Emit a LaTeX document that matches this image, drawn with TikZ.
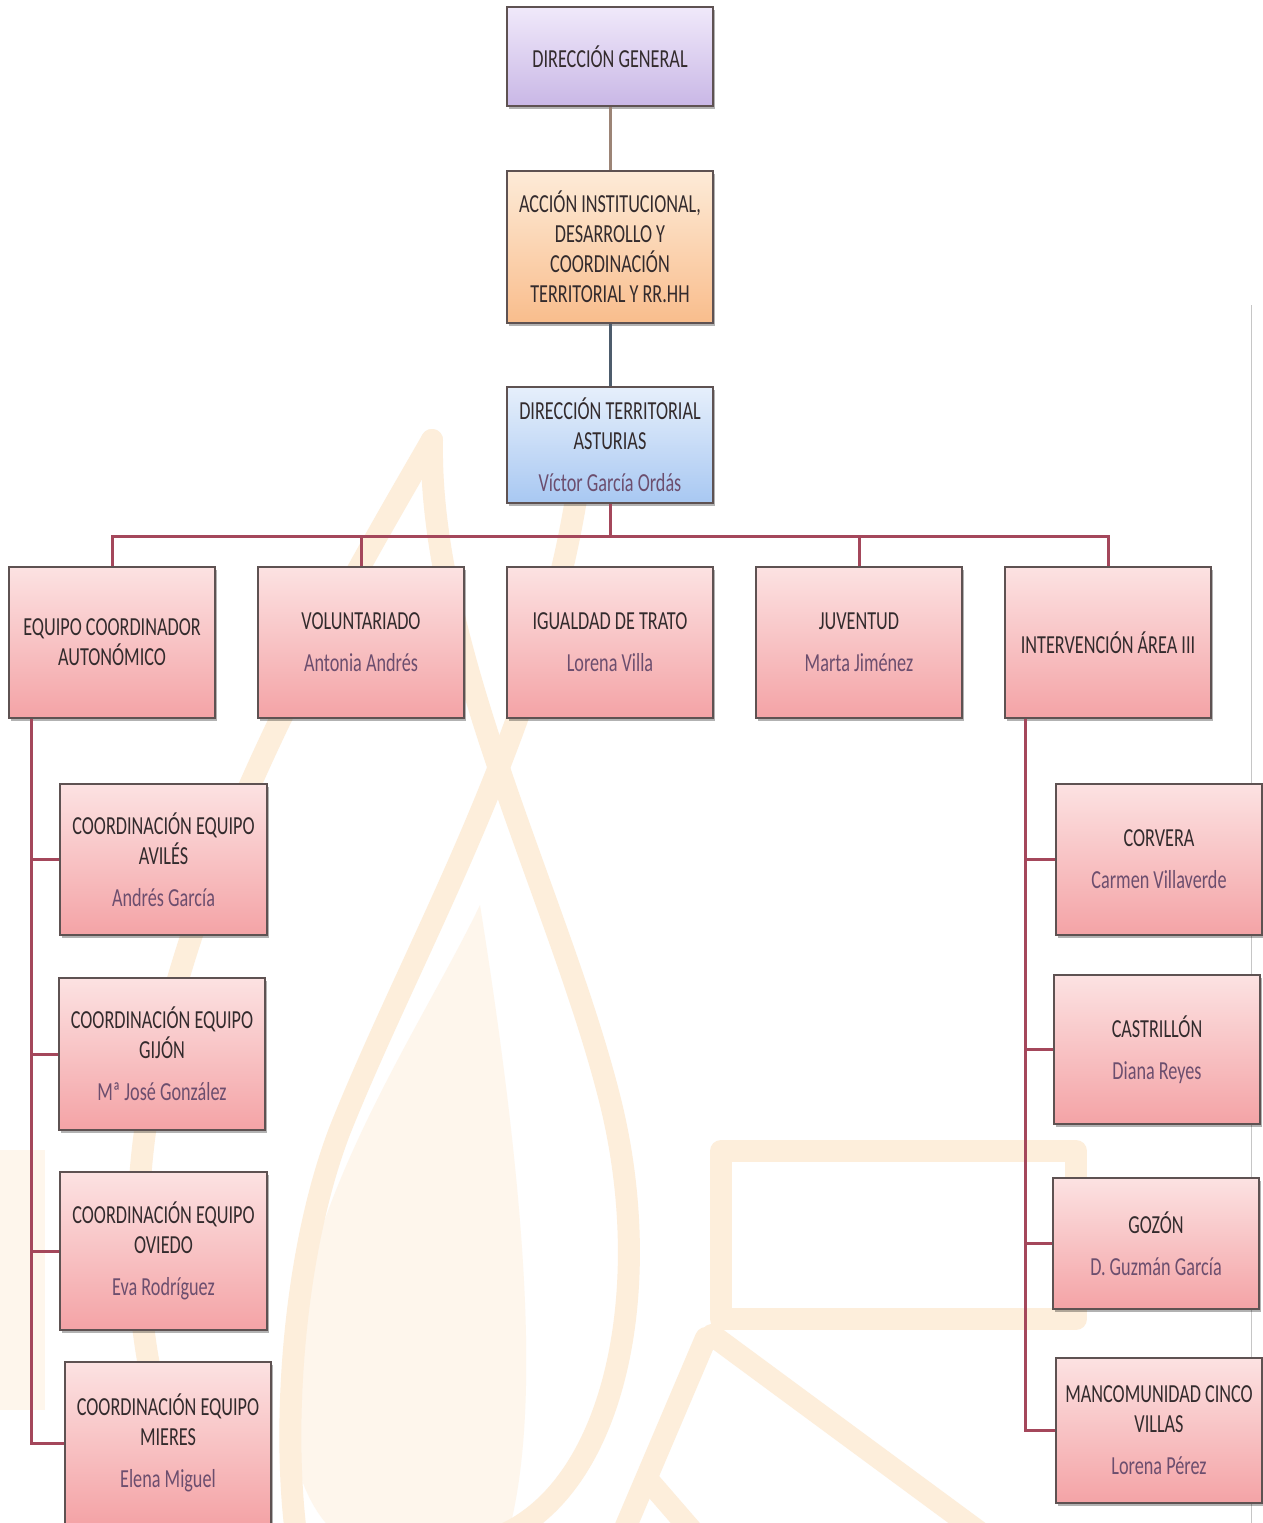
\documentclass[tikz,border=0pt]{standalone}
\usepackage{fontspec}
\setmainfont{Carlito}[FakeStretch=0.7]
\usetikzlibrary{shadows}
\definecolor{boxline}{HTML}{5E5252}
\definecolor{titlecol}{HTML}{332B2D}
\definecolor{namecol}{HTML}{6C4E6E}
\definecolor{pinkT}{HTML}{FCE2E2}
\definecolor{pinkM}{HTML}{F9C9CB}
\definecolor{pinkB}{HTML}{F4A3A6}
\definecolor{purT}{HTML}{F0E9FA}
\definecolor{purB}{HTML}{C9B7E6}
\definecolor{oraT}{HTML}{FDEBD8}
\definecolor{oraB}{HTML}{F9BD8C}
\definecolor{bluT}{HTML}{E6EFFB}
\definecolor{bluB}{HTML}{A8C8F2}
\definecolor{busc}{HTML}{A4475B}
\definecolor{conA}{HTML}{9C8476}
\definecolor{conB}{HTML}{4D5C6C}
\definecolor{wmS}{HTML}{FDEEDB}
\definecolor{wmF}{HTML}{FEF6EC}
\begin{document}
\begin{tikzpicture}[x=1pt,y=-1pt,
  box/.style={draw=boxline, line width=1.4pt, minimum width=206pt, inner sep=0pt,
    align=center, font=\fontsize{26}{30}\selectfont, text=titlecol,
    drop shadow={shadow xshift=2pt, shadow yshift=-3pt, fill=black, opacity=0.3}},
  pinkbox/.style={box, top color=pinkT, middle color=pinkM, bottom color=pinkB},
  purbox/.style={box, top color=purT, bottom color=purB},
  orabox/.style={box, top color=oraT, bottom color=oraB},
  blubox/.style={box, top color=bluT, bottom color=bluB},
  busline/.style={draw=busc, line width=3pt},
  wmline/.style={draw=wmS, line width=22pt, line cap=round, line join=round}]
\clip (0,0) rectangle (1263,1523);
\fill[white] (0,0) rectangle (1263,1523);
% ---- watermark ----
\fill[wmF] (480,905) .. controls (420,1030) and (300,1200) .. (290,1380)
  .. controls (285,1480) and (320,1540) .. (380,1560) -- (500,1560)
  .. controls (540,1450) and (535,1250) .. (480,905) -- cycle;
\fill[wmF] (0,1150) rectangle (45,1410);
\draw[wmline] (432,440) .. controls (428,650) and (560,900) .. (610,1100)
  .. controls (660,1300) and (610,1520) .. (470,1545);
\draw[wmline] (585,430) .. controls (560,700) and (420,930) .. (340,1130)
  .. controls (290,1260) and (280,1450) .. (300,1560);
\draw[wmline] (432,440) .. controls (340,600) and (160,900) .. (140,1180)
  .. controls (130,1380) and (170,1480) .. (250,1560);
\draw[wmline] (721,1151) rectangle (1076,1319);
\draw[wmline] (712,1335) -- (990,1540);
\draw[wmline] (706,1338) -- (620,1540);
\draw[wmline] (648,1480) -- (700,1540);
% ---- thin right rule ----
\draw[gray!45, line width=1pt] (1251,305) -- (1251,1523);
% ---- nodes ----
\node[purbox, minimum height=99pt] (dg) at (610,56.5) {DIRECCIÓN GENERAL};
\node[orabox, minimum height=152pt] (ai) at (610,247)
  {ACCIÓN INSTITUCIONAL,\\DESARROLLO Y\\COORDINACIÓN\\TERRITORIAL Y RR.HH};
\node[blubox, minimum height=116pt] (dt) at (610,445)
  {DIRECCIÓN TERRITORIAL\\ASTURIAS\\[12pt]\textcolor{namecol}{Víctor García Ordás}};
\node[pinkbox, minimum height=151pt] (eca) at (112,642.5) {EQUIPO COORDINADOR\\AUTONÓMICO};
\node[pinkbox, minimum height=151pt] (vol) at (361,642.5) {VOLUNTARIADO\\[12pt]\textcolor{namecol}{Antonia Andrés}};
\node[pinkbox, minimum height=151pt] (igu) at (610,642.5) {IGUALDAD DE TRATO\\[12pt]\textcolor{namecol}{Lorena Villa}};
\node[pinkbox, minimum height=151pt] (juv) at (859,642.5) {JUVENTUD\\[12pt]\textcolor{namecol}{Marta Jiménez}};
\node[pinkbox, minimum height=151pt] (int) at (1108,642.5) {INTERVENCIÓN ÁREA III};
\node[pinkbox, minimum height=151pt, minimum width=207pt] (avi) at (163.5,859.5)
  {COORDINACIÓN EQUIPO\\AVILÉS\\[12pt]\textcolor{namecol}{Andrés García}};
\node[pinkbox, minimum height=152pt] (gij) at (162,1054)
  {COORDINACIÓN EQUIPO\\GIJÓN\\[12pt]\textcolor{namecol}{Mª José González}};
\node[pinkbox, minimum height=158pt, minimum width=207pt] (ovi) at (163.5,1251)
  {COORDINACIÓN EQUIPO\\OVIEDO\\[12pt]\textcolor{namecol}{Eva Rodríguez}};
\node[pinkbox, minimum height=162pt] (mie) at (168,1443)
  {COORDINACIÓN EQUIPO\\MIERES\\[12pt]\textcolor{namecol}{Elena Miguel}};
\node[pinkbox, minimum height=151pt] (cor) at (1159,859.5)
  {CORVERA\\[12pt]\textcolor{namecol}{Carmen Villaverde}};
\node[pinkbox, minimum height=149pt] (cas) at (1157,1049.5)
  {CASTRILLÓN\\[12pt]\textcolor{namecol}{Diana Reyes}};
\node[pinkbox, minimum height=131pt] (goz) at (1156,1243.5)
  {GOZÓN\\[12pt]\textcolor{namecol}{D. Guzmán García}};
\node[pinkbox, minimum height=145pt] (man) at (1159,1430.5)
  {MANCOMUNIDAD CINCO\\VILLAS\\[12pt]\textcolor{namecol}{Lorena Pérez}};
% ---- connectors ----
\coordinate (bus) at (610,536);
\coordinate (lx) at (31,0);
\coordinate (rx) at (1025,0);
\draw[draw=conA, line width=3pt] (dg.south) -- (ai.north);
\draw[draw=conB, line width=3pt] (ai.south) -- (dt.north);
\draw[busline] (dt.south) -- (bus);
\draw[busline] (eca.north) |- (bus) -| (int.north);
\draw[busline] (vol.north) -- (vol.north |- bus);
\draw[busline] (juv.north) -- (juv.north |- bus);
\draw[busline] (eca.south -| lx) |- (mie.west);
\draw[busline] (avi.west -| lx) -- (avi.west);
\draw[busline] (gij.west -| lx) -- (gij.west);
\draw[busline] (ovi.west -| lx) -- (ovi.west);
\draw[busline] (int.south -| rx) |- (man.west);
\draw[busline] (cor.west -| rx) -- (cor.west);
\draw[busline] (cas.west -| rx) -- (cas.west);
\draw[busline] (goz.west -| rx) -- (goz.west);
\end{tikzpicture}
\end{document}
